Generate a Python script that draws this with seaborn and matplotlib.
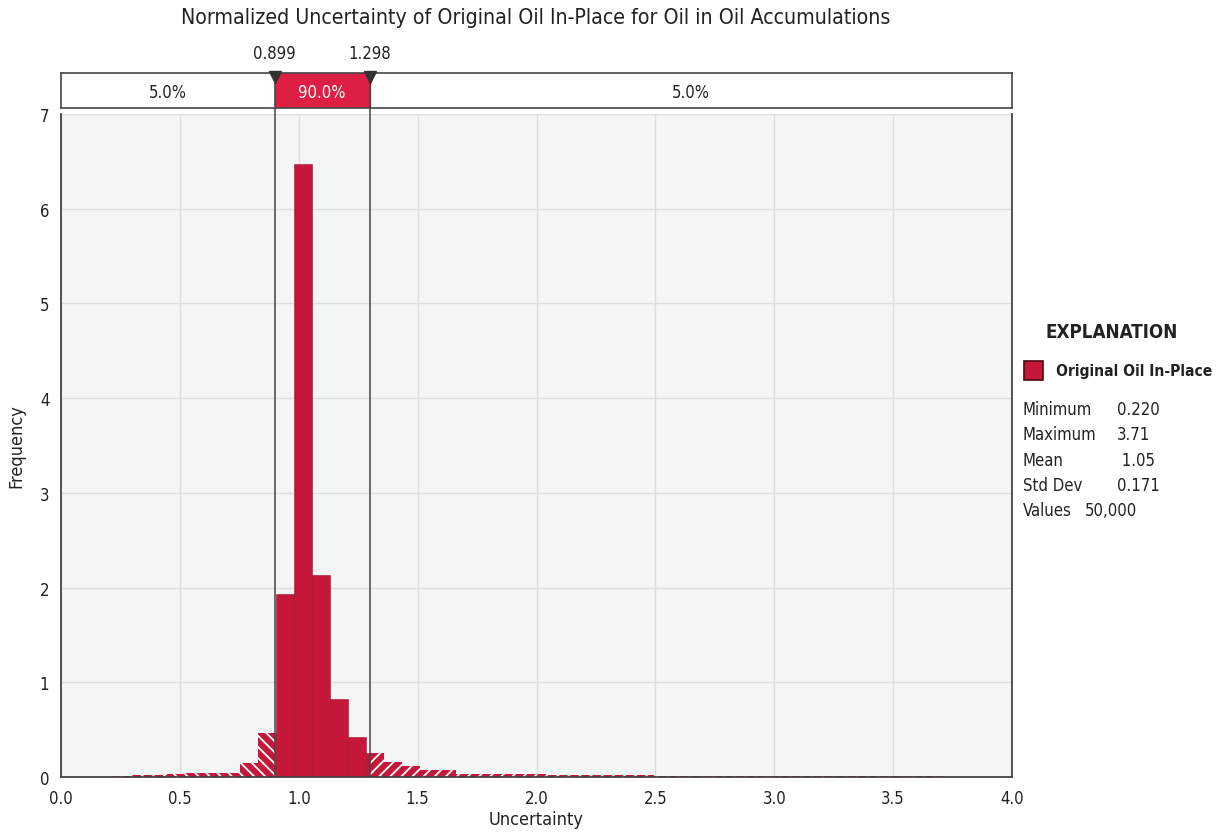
import numpy as np
import pandas as pd
import matplotlib
matplotlib.use("Agg")
import matplotlib.pyplot as plt
from matplotlib.patches import Rectangle
import seaborn as sns

# --- Data ---
v_min, v_max = 0.220, 3.71
n_bins = 46
p05, p95 = 0.899, 1.298

freq_left_tail = [0.015, 0.017, 0.020, 0.030, 0.040, 0.040, 0.045, 0.150, 0.460]
freq_core = [1.93, 6.47, 2.13, 0.82, 0.42, 0.25, 0.16, 0.115, 0.075, 0.070]
freq_mid_tail = [0.035, 0.032, 0.030, 0.028, 0.027, 0.025, 0.024, 0.023, 0.022, 0.021, 0.020]
freq_far_tail = [0.014, 0.013, 0.013, 0.012, 0.012, 0.012, 0.011, 0.011,
                 0.011, 0.010, 0.010, 0.010, 0.010, 0.009, 0.009, 0.009]

stat_names = ["Minimum", "Maximum", "Mean", "Std Dev", "Values"]
stat_values = ["0.220", "3.71", " 1.05", "0.171", "50,000"]

# --- Build bins, split at the 5% / 95% lines ---
freq = np.array(freq_left_tail + freq_core + freq_mid_tail + freq_far_tail)
edges = np.linspace(v_min, v_max, n_bins + 1)
split_edges = np.sort(np.concatenate([edges, [p05, p95]]))
centers = (split_edges[:-1] + split_edges[1:]) / 2
parent = np.clip(np.searchsorted(edges, centers) - 1, 0, n_bins - 1)
df = pd.DataFrame({"Uncertainty": centers, "Frequency": freq[parent]})

# --- Style ---
sns.set_style("whitegrid")
plt.rcParams["font.family"] = ["DejaVu Sans"]
plt.rcParams["font.stretch"] = "condensed"
plt.rcParams["hatch.linewidth"] = 1.3

red_band = "#dc1f42"
red_bar = "#c5173a"
dark = "#444444"
txt = "#222222"

fig = plt.figure(figsize=(12.22, 8.37), dpi=100)
ax = fig.add_axes([61 / 1222, 59 / 837, 951 / 1222, 663 / 837])
band = fig.add_axes([61 / 1222, 728 / 837, 951 / 1222, 35 / 837])

# --- Histogram ---
sns.histplot(data=df, x="Uncertainty", weights="Frequency", bins=split_edges.tolist(),
             stat="count", ax=ax, color=red_bar, alpha=1, linewidth=0)
for patch in ax.patches:
    xc = patch.get_x() + patch.get_width() / 2
    patch.set_facecolor(red_bar)
    if xc < p05:
        patch.set_hatch("\\\\\\")
        patch.set_edgecolor("white")
    elif xc > p95:
        patch.set_hatch("///")
        patch.set_edgecolor("white")
    else:
        patch.set_edgecolor("#a01230")
        patch.set_linewidth(0.4)

ax.set_facecolor("#f4f6f6")
ax.set_xlim(0, 4)
ax.set_ylim(0, 7)
ax.set_xticks(np.arange(0, 4.01, 0.5))
ax.set_yticks(range(0, 8))
ax.grid(True, color="#dcdedf", linewidth=1)
ax.tick_params(axis="both", length=5, width=1, color=dark, labelsize=12, direction="out",
               labelcolor=txt)
ax.tick_params(axis="x", pad=4)
for side in ["left", "bottom", "right"]:
    ax.spines[side].set_visible(True)
    ax.spines[side].set_color(dark)
    ax.spines[side].set_linewidth(1.3)
ax.spines["top"].set_visible(False)
ax.set_xlabel("Uncertainty", fontsize=13, labelpad=2, color=txt)
ax.set_ylabel("Frequency", fontsize=13, labelpad=10, color=txt)

for p in (p05, p95):
    ax.axvline(p, ymin=0, ymax=1 + 8 / 663, color=dark, linewidth=1.1, clip_on=False, zorder=5)

# --- Percentile band ---
band.set_xlim(0, 4)
band.set_ylim(0, 1)
band.set_facecolor("white")
band.axvspan(p05, p95, color=red_band)
band.set_xticks([])
band.set_yticks([])
band.grid(False)
for s in band.spines.values():
    s.set_visible(True)
    s.set_color(dark)
    s.set_linewidth(1.2)
band.text(p05 / 2, 0.45, "5.0%", ha="center", va="center", fontsize=12, color=txt)
band.text((p05 + p95) / 2, 0.45, "90.0%", ha="center", va="center", fontsize=12, color="white")
band.text((p95 + 4) / 2, 0.45, "5.0%", ha="center", va="center", fontsize=12, color=txt)
for p in (p05, p95):
    band.axvline(p, color=dark, linewidth=1.1)
    band.plot([p], [0.9], marker="v", markersize=9, color="#333333", clip_on=False, zorder=6)
    band.annotate(f"{p:.3f}", xy=(p, 1), xytext=(0, 8), textcoords="offset points",
                  ha="center", va="bottom", fontsize=12, color=txt)

fig.text(536 / 1222, 1 - 18 / 837, "Normalized Uncertainty of Original Oil In-Place for Oil in Oil Accumulations",
         ha="center", va="center", fontsize=15.3, color=txt)

# --- Explanation ---
fig.text(1112 / 1222, 1 - 333 / 837, "EXPLANATION", ha="center", va="center",
         fontsize=13.5, fontweight="bold", color=txt)
fig.patches.append(Rectangle((1024 / 1222, 1 - 381 / 837), 19 / 1222, 19 / 837,
                             transform=fig.transFigure, facecolor=red_bar,
                             edgecolor="#4a0a14", linewidth=1.2))
fig.text(1056 / 1222, 1 - 372 / 837, "Original Oil In-Place", ha="left", va="center",
         fontsize=11.2, fontweight="bold", color=txt)
value_x = [1117, 1117, 1117, 1117, 1085]
for i, (name, val) in enumerate(zip(stat_names, stat_values)):
    y = 1 - (410 + 25.3 * i) / 837
    fig.text(1023 / 1222, y, name, ha="left", va="center", fontsize=12, color=txt)
    fig.text(value_x[i] / 1222, y, val, ha="left", va="center", fontsize=12, color=txt)

fig.savefig("out.png", dpi=100)
